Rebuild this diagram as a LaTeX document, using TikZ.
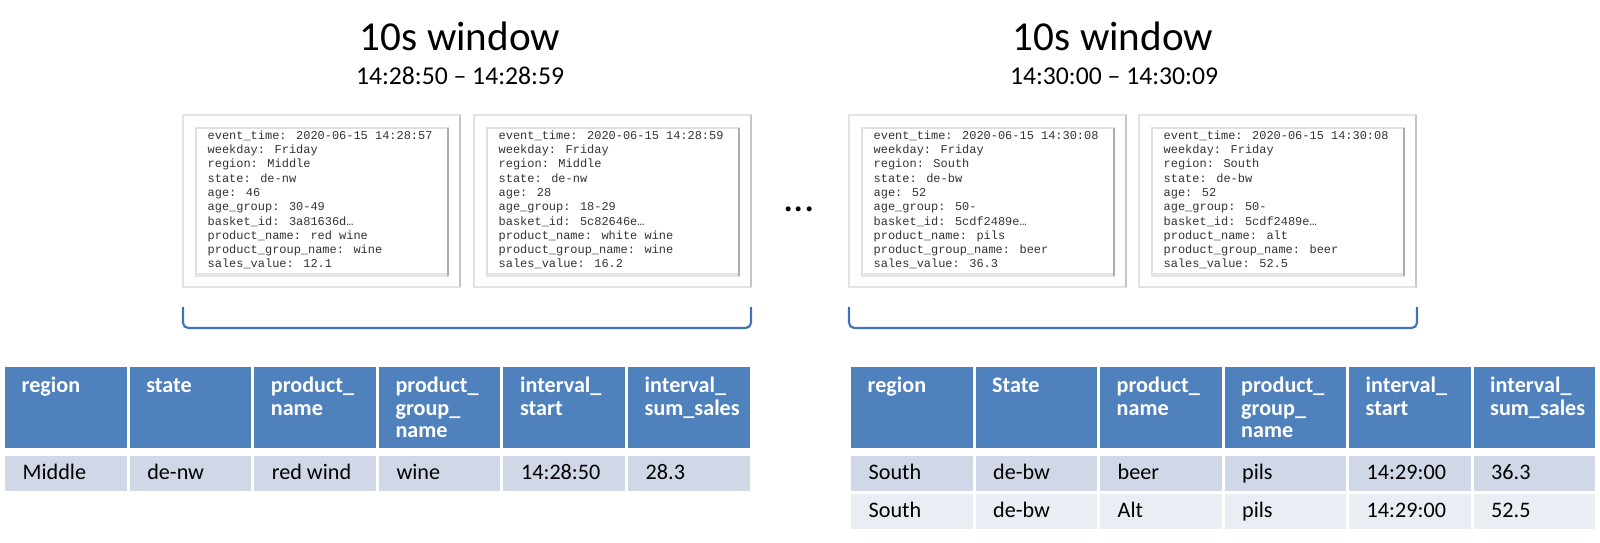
\documentclass[tikz,border=0pt]{standalone}
\usepackage{fontspec}
\setmainfont{Carlito}
\newfontfamily\cardmono{Liberation Mono}
\usetikzlibrary{positioning}

\definecolor{hdrblue}{HTML}{4F81BD}
\definecolor{rowdark}{HTML}{D0D8E8}
\definecolor{rowlight}{HTML}{E9EDF4}
\definecolor{bracketblue}{HTML}{3F72B8}
\definecolor{cardgray}{HTML}{333333}

\tikzset{
  titletext/.style={font=\fontsize{11.7pt}{14pt}\selectfont, inner sep=0},
  subtitletext/.style={font=\fontsize{7.3pt}{9pt}\selectfont, inner sep=0},
  cardouter/.style={draw=gray!22, fill=white, line width=0.6pt},
  cardinner/.style={draw=gray!25, line width=0.5pt},
  cardtext/.style={font=\cardmono\fontsize{3.4pt}{4.07pt}\selectfont, text=cardgray,
    align=left, inner sep=0, anchor=base west},
  hdrtext/.style={font=\bfseries\fontsize{6.3pt}{6.4pt}\selectfont, text=white,
    align=left, inner sep=0, anchor=base west},
  celltext/.style={font=\fontsize{6.3pt}{6.4pt}\selectfont, inner sep=0, anchor=base west},
  bracketline/.style={draw=bracketblue, line width=0.6pt, rounded corners=1.5pt},
}

% one event card: left x, name, lines (anchored at the baseline of the last line)
\newcommand{\eventcard}[3]{
  \draw[cardouter] (#1,115) rectangle ({#1+277},287);
  \draw[gray!45, line width=0.6pt] ({#1+277},115) -- ({#1+277},287);
  \draw[cardinner] ({#1+13},128) rectangle ({#1+265},276);
  \draw[gray!20, line width=1pt] ({#1+13},275) -- ({#1+265},275);
  \draw[gray!65, line width=0.7pt] ({#1+265},128) -- ({#1+265},276);
  \node[cardtext] (#2) at ({#1+24},268) {#3};
}

\begin{document}
\begin{tikzpicture}[x=0.01cm, y=-0.01cm]
    \useasboundingbox (0,0) rectangle (1600,543);

    % Window titles
    \node[titletext, anchor=base] (winA) at (460,51) {10s window};
    \node[subtitletext, anchor=base] (spanA) at (460,85) {14:28:50 – 14:28:59};
    \node[titletext, anchor=base] (winB) at (1113,51) {10s window};
    \node[subtitletext, anchor=base] (spanB) at (1114,85) {14:30:00 – 14:30:09};

    % Event cards
    \eventcard{183}{evA}{event\_time: 2020-06-15 14:28:57\\weekday: Friday\\region: Middle\\state: de-nw\\age: 46\\age\_group: 30-49\\basket\_id: 3a81636d…\\product\_name: red wine\\product\_group\_name: wine\\sales\_value: 12.1}
    \eventcard{474}{evB}{event\_time: 2020-06-15 14:28:59\\weekday: Friday\\region: Middle\\state: de-nw\\age: 28\\age\_group: 18-29\\basket\_id: 5c82646e…\\product\_name: white wine\\product\_group\_name: wine\\sales\_value: 16.2}
    \eventcard{849}{evC}{event\_time: 2020-06-15 14:30:08\\weekday: Friday\\region: South\\state: de-bw\\age: 52\\age\_group: 50-\\basket\_id: 5cdf2489e…\\product\_name: pils\\product\_group\_name: beer\\sales\_value: 36.3}
    \eventcard{1139}{evD}{event\_time: 2020-06-15 14:30:08\\weekday: Friday\\region: South\\state: de-bw\\age: 52\\age\_group: 50-\\basket\_id: 5cdf2489e…\\product\_name: alt\\product\_group\_name: beer\\sales\_value: 52.5}

    % Gap between windows
    \node[titletext, anchor=center] (dots) at (799,209) {...};

    % Brackets
    \draw[bracketline] (183,307) -- (183,328) -- (751,328) -- (751,307);
    \draw[bracketline] (849,307) -- (849,328) -- (1417,328) -- (1417,307);

    % Left result table (header text anchored at its last baseline)
    \foreach \i/\b/\txt in {0/393/region, 1/393/state, 2/415.5/{product\_\\name},
                            3/438/{product\_\\group\_\\name}, 4/415.5/{interval\_\\start},
                            5/415.5/{interval\_\\sum\_sales}} {
      \fill[hdrblue] ({5+124.6*\i},367) rectangle +(121.6,81);
      \node[hdrtext] (lh\i) at ({21+124.6*\i},\b) {\txt};
    }
    \foreach \i/\txt in {0/Middle, 1/de-nw, 2/red wind, 3/wine, 4/14:28:50, 5/28.3} {
      \fill[rowdark] ({5+124.6*\i},456) rectangle +(121.6,35);
      \node[celltext] (lr\i) at ({22+124.6*\i},479) {\txt};
    }

    % Right result table
    \foreach \i/\b/\txt in {0/393/region, 1/393/State, 2/415.5/{product\_\\name},
                            3/438/{product\_\\group\_\\name}, 4/415.5/{interval\_\\start},
                            5/415.5/{interval\_\\sum\_sales}} {
      \fill[hdrblue] ({851+124.5*\i},367) rectangle +(121.5,81);
      \node[hdrtext] (rh\i) at ({867+124.5*\i},\b) {\txt};
    }
    \foreach \i/\txt in {0/South, 1/de-bw, 2/beer, 3/pils, 4/14:29:00, 5/36.3} {
      \fill[rowdark] ({851+124.5*\i},456) rectangle +(121.5,35);
      \node[celltext] (ra\i) at ({868+124.5*\i},479) {\txt};
    }
    \foreach \i/\txt in {0/South, 1/de-bw, 2/Alt, 3/pils, 4/14:29:00, 5/52.5} {
      \fill[rowlight] ({851+124.5*\i},494) rectangle +(121.5,35);
      \node[celltext] (rb\i) at ({868+124.5*\i},518) {\txt};
    }
\end{tikzpicture}
\end{document}
